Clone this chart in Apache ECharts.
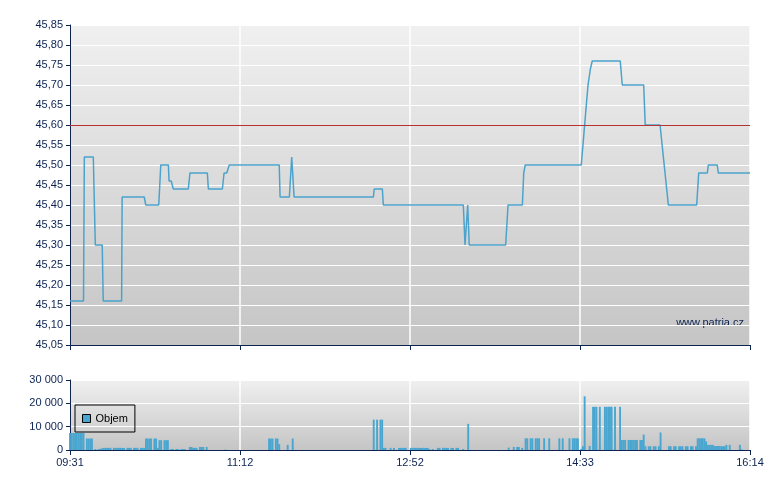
<!DOCTYPE html>
<html>
<head>
<meta charset="utf-8">
<script src="https://cdn.jsdelivr.net/npm/echarts@6/dist/echarts.min.js"></script>
<style>html,body{margin:0;padding:0;background:#fff;}#c{width:780px;height:490px;}</style>
</head>
<body>
<div id="c"></div>
<script>
// Time axis: minutes since 09:31
const xTickLabels = ['09:31', '11:12', '12:52', '14:33', '16:14'];
const priceTickStep = 0.05;
const referencePrice = 45.60;

const lineTimes = [0,8.0,8.5,13.8,15.0,19.1,19.7,30.6,30.9,44.0,44.9,52.6,53.8,58.3,58.7,60.0,61.2,70.1,71.1,81.4,82.0,90.3,91.3,92.9,94.4,124.0,124.5,130.0,131.4,132.2,132.8,179.8,180.3,185.1,185.7,233.1,234.1,235.7,236.6,258.2,259.6,268.1,268.9,269.8,303.0,304.6,305.4,307.0,307.8,308.4,308.9,309.5,326.1,327.3,340.0,340.9,349.7,354.6,371.4,372.6,377.7,378.3,383.6,384.2,403];
const linePrices = [45.16,45.16,45.52,45.52,45.30,45.30,45.16,45.16,45.42,45.42,45.40,45.40,45.50,45.50,45.46,45.46,45.44,45.44,45.48,45.48,45.44,45.44,45.48,45.48,45.50,45.50,45.42,45.42,45.52,45.52,45.42,45.42,45.44,45.44,45.40,45.40,45.30,45.40,45.30,45.30,45.40,45.40,45.48,45.50,45.50,45.58,45.58,45.70,45.70,45.74,45.74,45.76,45.76,45.70,45.70,45.60,45.60,45.40,45.40,45.48,45.48,45.50,45.50,45.48,45.48];

const volMinutes = [
 0,1,2,3,4,5,6,7,8,
 10,11,12,13,
 15,17,18,19,
 20,21,22,23,24,26,27,28,29,
 30,31,32,34,35,36,38,39,40,42,43,44,
 45,46,47,48,50,51,
 52,
 53,54,56,57,58,
 60,61,63,64,66,67,68,
 71,72,73,74,75,77,78,79,81,
 92,
 118,119,120,122,123,124,129,132,
 180,182,184,185,186,187,
 190,192,195,196,197,198,199,
 202,203,204,205,206,207,208,209,210,211,212,213,215,
 218,219,221,222,223,224,226,227,229,230,233,236,
 260,263,265,266,268,
 270,271,273,274,276,277,278,281,284,290,292,296,298,299,300,301,
 303,304,305,308,
 310,311,312,314,317,318,319,320,321,323,326,
 327,328,329,331,332,333,334,335,336,338,339,
 340,341,343,344,346,347,349,350,
 355,356,358,359,361,362,363,365,366,368,369,371,
 372,373,374,375,376,377,378,379,380,381,
 382,383,384,385,386,387,388,389,391,397,398
];
const volValues = [
 7300,7300,7300,7300,7300,7300,7300,7300,7300,
 4900,4900,4900,4900,
 400,400,500,700,
 900,900,900,900,900,900,900,900,900,
 900,900,900,900,900,900,900,900,900,900,900,900,
 4900,4900,4900,4900,4900,4900,
 900,
 4200,4200,4200,4200,4200,
 400,400,400,400,400,400,400,
 1300,1300,900,900,900,1300,1300,1300,1300,
 200,
 4900,4900,4900,4900,4900,2500,2200,4900,
 13000,13000,13000,13000,900,900,
 900,900,900,900,900,900,900,
 900,900,900,900,900,900,900,900,900,900,900,400,400,
 900,900,900,900,900,900,900,900,900,900,400,11200,
 1000,1300,1300,1300,900,
 5000,5000,5000,5000,5000,5000,5000,5000,5000,5000,5000,5000,5000,5000,5000,5000,
 500,1600,23000,1700,
 18500,18500,18500,18500,18500,18500,18500,18500,18500,18500,18500,
 4300,4300,4300,4300,4300,4300,4300,4300,4300,4300,4300,
 6600,1600,1600,1600,1600,1600,1600,7500,
 1600,1600,1600,1600,1600,1600,1600,1600,1600,1600,1600,1600,
 5000,5000,5000,5000,5000,3700,2200,2200,2200,2200,
 1700,1700,1700,1700,1600,1600,1600,2200,2200,2200,300
];

const navy = '#0c2352';
const font = 'Liberation Sans';
const xMax = 403;
const xStep = xMax / 4;

function bg() {
  return {type: 'linear', x: 0, y: 0, x2: 0, y2: 1,
    colorStops: [{offset: 0, color: '#f0f0f0'}, {offset: 1, color: '#c5c5c5'}]};
}
function xLabel(v) {
  const i = Math.round(v / xStep);
  return xTickLabels[i] || '';
}
function thousands(v) {
  return String(v).replace(/\B(?=(\d{3})+(?!\d))/g, ' ');
}

const chart = echarts.init(document.getElementById('c'), null, {renderer: 'canvas'});
chart.setOption({
  animation: false,
  textStyle: {fontFamily: font},
  grid: [
    {left: 70, right: 30, top: 25, height: 320, show: true, backgroundColor: bg(), borderWidth: 0},
    {left: 70, right: 30, top: 380, height: 70, show: true, backgroundColor: bg(), borderWidth: 0}
  ],
  xAxis: [
    {type: 'value', gridIndex: 0, min: 0, max: xMax, interval: xStep,
      axisLine: {show: true, lineStyle: {color: navy, width: 1}},
      axisTick: {show: true, length: 5, lineStyle: {color: navy}},
      axisLabel: {show: false},
      splitLine: {show: true, lineStyle: {color: '#ffffff', width: 1.5}}},
    {type: 'value', gridIndex: 1, min: 0, max: xMax, interval: xStep,
      axisLine: {show: true, lineStyle: {color: navy, width: 1}},
      axisTick: {show: true, length: 5, lineStyle: {color: navy}},
      axisLabel: {show: true, color: navy, fontSize: 11, fontFamily: font, margin: 7, formatter: xLabel},
      splitLine: {show: true, lineStyle: {color: '#ffffff', width: 1.5}}}
  ],
  yAxis: [
    {type: 'value', gridIndex: 0, min: 45.05, max: 45.85, interval: priceTickStep,
      axisLine: {show: true, lineStyle: {color: navy, width: 1}},
      axisTick: {show: true, length: 4, lineStyle: {color: navy}},
      axisLabel: {color: navy, fontSize: 11, fontFamily: font, margin: 7,
        formatter: v => v.toFixed(2).replace('.', ',')},
      splitLine: {show: true, lineStyle: {color: '#ffffff', width: 1}}},
    {type: 'value', gridIndex: 1, min: 0, max: 30000, interval: 10000,
      axisLine: {show: true, lineStyle: {color: navy, width: 1}},
      axisTick: {show: true, length: 4, lineStyle: {color: navy}},
      axisLabel: {color: navy, fontSize: 11, fontFamily: font, margin: 7, formatter: thousands},
      splitLine: {show: true, lineStyle: {color: '#ffffff', width: 1}}}
  ],
  legend: {
    data: [{name: 'Objem', icon: 'rect', itemStyle: {borderColor: '#000', borderWidth: 1}}],
    left: 75, top: 405, orient: 'horizontal',
    padding: [8, 7], itemWidth: 8, itemHeight: 8, itemGap: 5,
    borderColor: '#000', borderWidth: 1, borderRadius: 0, backgroundColor: 'transparent',
    textStyle: {color: '#000', fontSize: 11, fontFamily: font}
  },
  graphic: [
    {type: 'text', right: 36, top: 317, silent: true,
      style: {text: 'www.patria.cz', fill: navy, font: '11px "Liberation Sans"'}}
  ],
  series: [
    {type: 'line', name: 'Cena', xAxisIndex: 0, yAxisIndex: 0,
      data: lineTimes.map((t, i) => [t, linePrices[i]]),
      showSymbol: false, symbol: 'none',
      lineStyle: {color: '#4ba3cb', width: 1.5},
      markLine: {silent: true, symbol: 'none', label: {show: false},
        lineStyle: {color: '#b83232', type: 'solid', width: 1},
        data: [{yAxis: referencePrice}]}},
    {type: 'bar', name: 'Objem', xAxisIndex: 1, yAxisIndex: 1,
      data: volMinutes.map((m, i) => [m, volValues[i]]),
      barWidth: 1.9, itemStyle: {color: '#48a6d0'}}
  ]
});
</script>
</body>
</html>
